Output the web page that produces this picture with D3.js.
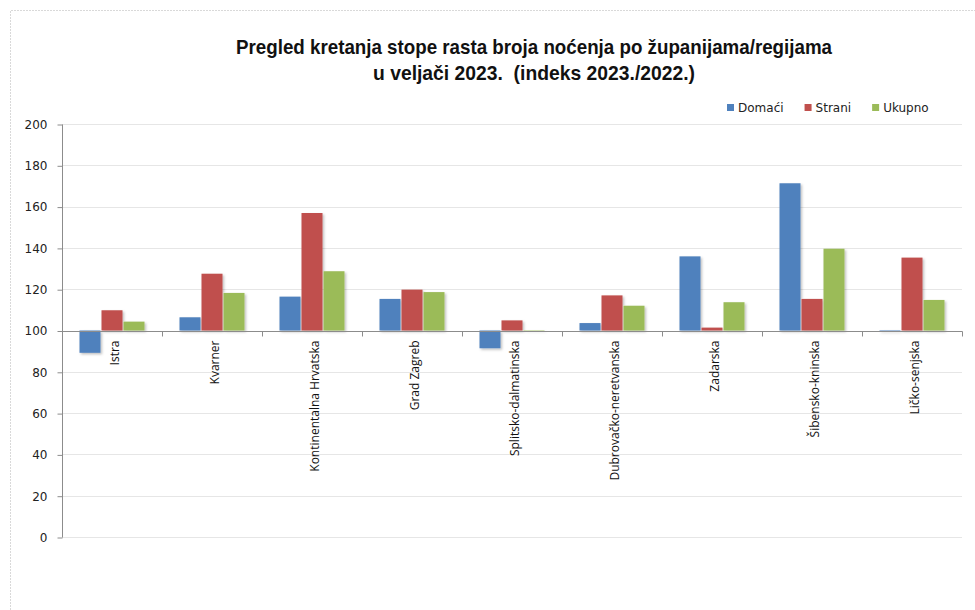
<!DOCTYPE html>
<html><head><meta charset="utf-8">
<script src="https://cdn.jsdelivr.net/npm/d3@7"></script>
<style>
body{margin:0;background:#fff;}
svg{display:block;}
</style></head>
<body>
<svg id="c" width="975" height="610"></svg>
<script>
const categories = ["Istra","Kvarner","Kontinentalna Hrvatska","Grad Zagreb","Splitsko-dalmatinska","Dubrovačko-neretvanska","Zadarska","Šibensko-kninska","Ličko-senjska"];
const seriesNames = ["Domaći","Strani","Ukupno"];
const domaci = [89.2,106.4,116.4,115.3,91.4,103.6,135.9,171.3,99.6];
const strani = [109.8,127.5,156.9,119.8,104.9,117.0,101.4,115.3,135.3];
const ukupno = [104.3,118.2,128.7,118.6,99.8,112.0,113.7,139.6,114.8];
const yTicks = [0,20,40,60,80,100,120,140,160,180,200];
const titleLines = ["Pregled kretanja stope rasta broja noćenja po županijama/regijama","u veljači 2023.  (indeks 2023./2022.)"];
const colors = ["#4F81BD","#C0504D","#9BBB59"];
const baseValue = 100;

const svg = d3.select("#c");
const m = {l:62, r:962, t:124, b:537};

// chart border
svg.append("path").attr("d","M10.5,610 L10.5,10.5 L975,10.5")
  .attr("fill","none").attr("stroke","#d9d9d9").attr("stroke-dasharray","2,1");

const defs = svg.append("defs");
const f = defs.append("filter").attr("id","sh").attr("x","-20%").attr("y","-20%").attr("width","150%").attr("height","150%");
f.append("feDropShadow").attr("dx",1.5).attr("dy",1.5).attr("stdDeviation",1.2).attr("flood-color","#000").attr("flood-opacity",0.25);

const x0 = d3.scaleBand().domain(categories).range([m.l,m.r]).paddingInner(0).paddingOuter(0);
const x1 = d3.scaleBand().domain(seriesNames).range([0,x0.bandwidth()]).paddingOuter(0.795).paddingInner(0.045);
const y = d3.scaleLinear().domain([0,200]).range([m.b,m.t]);

// gridlines
svg.append("g").selectAll("line").data(yTicks.filter(v=>v!==baseValue)).join("line")
  .attr("x1",m.l).attr("x2",m.r).attr("y1",d=>Math.round(y(d))+0.5).attr("y2",d=>Math.round(y(d))+0.5)
  .attr("stroke","#e6e6e6").attr("stroke-width",1);

// y axis
const ya = svg.append("g").attr("transform",`translate(${m.l+0.5},0.5)`)
  .call(d3.axisLeft(y).tickValues(yTicks).tickSize(5).tickPadding(10));
ya.select(".domain").attr("stroke","#8c8c8c").attr("d",`M-0,${y(0)}V${y(200)}`);
ya.selectAll(".tick line").attr("stroke","#8c8c8c");
ya.selectAll(".tick text").attr("font-family","DejaVu Sans, Verdana, sans-serif").attr("font-size",12).attr("fill","#222");

// bars
const data = categories.map((c,i)=>({c, vals:[domaci[i],strani[i],ukupno[i]]}));
const g = svg.append("g").attr("filter","url(#sh)");
data.forEach(d=>{
  d.vals.forEach((v,j)=>{
    const yy = Math.min(y(v),y(baseValue)), h = Math.abs(y(v)-y(baseValue));
    g.append("rect").attr("x",x0(d.c)+x1(seriesNames[j])).attr("width",x1.bandwidth())
      .attr("y",yy).attr("height",h).attr("fill",colors[j]);
  });
});

// category axis at 100
const xa = svg.append("g").attr("transform",`translate(0.5,${Math.round(y(baseValue))+0.5})`);
xa.append("line").attr("x1",m.l).attr("x2",m.r).attr("stroke","#8c8c8c");
const tickXs = categories.map(c=>x0(c)).concat([m.r]);
xa.selectAll("line.t").data(tickXs.slice(1)).join("line").attr("class","t")
  .attr("x1",d=>d).attr("x2",d=>d).attr("y1",0).attr("y2",5).attr("stroke","#8c8c8c");
xa.selectAll("text").data(categories).join("text")
  .attr("transform",d=>`translate(${x0(d)+x0.bandwidth()/2+6},9) rotate(-90)`)
  .attr("text-anchor","end").attr("font-family","Open Sans, sans-serif").attr("font-size",12).attr("fill","#111")
  .text(d=>d);

// title
const titleWidths = [596, 322];
svg.append("g").selectAll("text").data(titleLines).join("text")
  .attr("x",534).attr("y",(d,i)=>54+i*26).attr("text-anchor","middle")
  .attr("xml:space","preserve").style("white-space","pre")
  .attr("textLength",(d,i)=>titleWidths[i]).attr("lengthAdjust","spacingAndGlyphs")
  .attr("font-family","Liberation Sans, Arial, sans-serif").attr("font-weight","bold").attr("font-size",20.5)
  .attr("fill","#111").text(d=>d);

// legend
const lg = svg.append("g").attr("transform","translate(727,108)");
let lx = 0;
seriesNames.forEach((s,i)=>{
  const it = lg.append("g").attr("transform",`translate(${lx},0)`);
  it.append("rect").attr("x",0).attr("y",-4).attr("width",7).attr("height",7).attr("fill",colors[i]);
  const t = it.append("text").attr("x",11).attr("y",4).attr("font-family","DejaVu Sans, Verdana, sans-serif").attr("font-size",12).attr("fill","#222").text(s);
  lx += 11 + t.node().getComputedTextLength() + 21;
});
</script>
</body></html>
